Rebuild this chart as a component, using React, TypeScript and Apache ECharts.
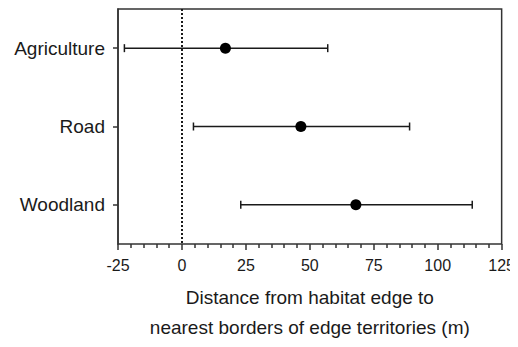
import React, { useEffect, useRef } from "react";
import * as echarts from "echarts";

const categories = ["Agriculture", "Road", "Woodland"];
const means = [17, 46.5, 68];
const lows = [-22.5, 4.5, 23];
const highs = [57, 89, 113.5];
const xTicks = { min: -25, max: 125, interval: 25 };
const xName = "Distance from habitat edge to\nnearest borders of edge territories (m)";

const FONT = "'Liberation Sans', Arial, Helvetica, sans-serif";
const INK = "#1a1a1a";

export default function App() {
  const ref = useRef<HTMLDivElement>(null);
  useEffect(() => {
    if (!ref.current) return;
    const chart = echarts.init(ref.current, undefined, { renderer: "svg" });
    const errData = categories.map((c, i) => [i, lows[i], highs[i]]);
    chart.setOption({
      animation: false,
      grid: {
        left: 118,
        right: 15,
        top: 9,
        bottom: 102,
        show: true,
        borderColor: "#333",
        borderWidth: 1.5,
      },
      xAxis: {
        type: "value",
        min: xTicks.min,
        max: xTicks.max,
        interval: xTicks.interval,
        splitLine: { show: false },
        axisLine: { onZero: false, lineStyle: { color: "#333", width: 1.5 } },
        axisTick: { show: true, length: 6, lineStyle: { color: "#333", width: 1.5 } },
        minorTick: { show: true, splitNumber: 5, length: 4, lineStyle: { color: "#333", width: 1.5 } },
        axisLabel: { color: INK, fontSize: 16, fontFamily: FONT, margin: 13 },
        name: xName,
        nameLocation: "middle",
        nameGap: 38,
        nameTextStyle: { color: INK, fontSize: 19, fontFamily: FONT, lineHeight: 30 },
      },
      yAxis: {
        type: "category",
        data: categories,
        inverse: true,
        axisLine: { onZero: false, lineStyle: { color: "#333", width: 1.5 } },
        axisTick: { show: true, alignWithLabel: true, length: 5, lineStyle: { color: "#333", width: 1.5 } },
        axisLabel: { color: INK, fontSize: 19, fontFamily: FONT, margin: 13 },
        splitLine: { show: false },
      },
      series: [
        {
          type: "custom",
          data: errData,
          encode: { x: [1, 2], y: 0 },
          renderItem: (params: any, api: any) => {
            const yi = api.value(0);
            const p1 = api.coord([api.value(1), yi]);
            const p2 = api.coord([api.value(2), yi]);
            const h = 4;
            const style = { stroke: INK, lineWidth: 1.5 };
            return {
              type: "group",
              children: [
                { type: "line", shape: { x1: p1[0], y1: p1[1], x2: p2[0], y2: p2[1] }, style },
                { type: "line", shape: { x1: p1[0], y1: p1[1] - h, x2: p1[0], y2: p1[1] + h }, style },
                { type: "line", shape: { x1: p2[0], y1: p2[1] - h, x2: p2[0], y2: p2[1] + h }, style },
              ],
            };
          },
          z: 2,
        },
        {
          type: "scatter",
          data: means.map((m, i) => [m, i]),
          symbol: "circle",
          symbolSize: 11,
          itemStyle: { color: "#000", opacity: 1 },
          z: 3,
          markLine: {
            silent: true,
            symbol: "none",
            label: { show: false },
            lineStyle: { type: [2, 2], color: INK, width: 2, opacity: 1 },
            data: [{ xAxis: 0 }],
          },
        },
      ],
    });
    return () => chart.dispose();
  }, []);
  return <div ref={ref} style={{ width: 518, height: 347, margin: -8 }} />;
}
